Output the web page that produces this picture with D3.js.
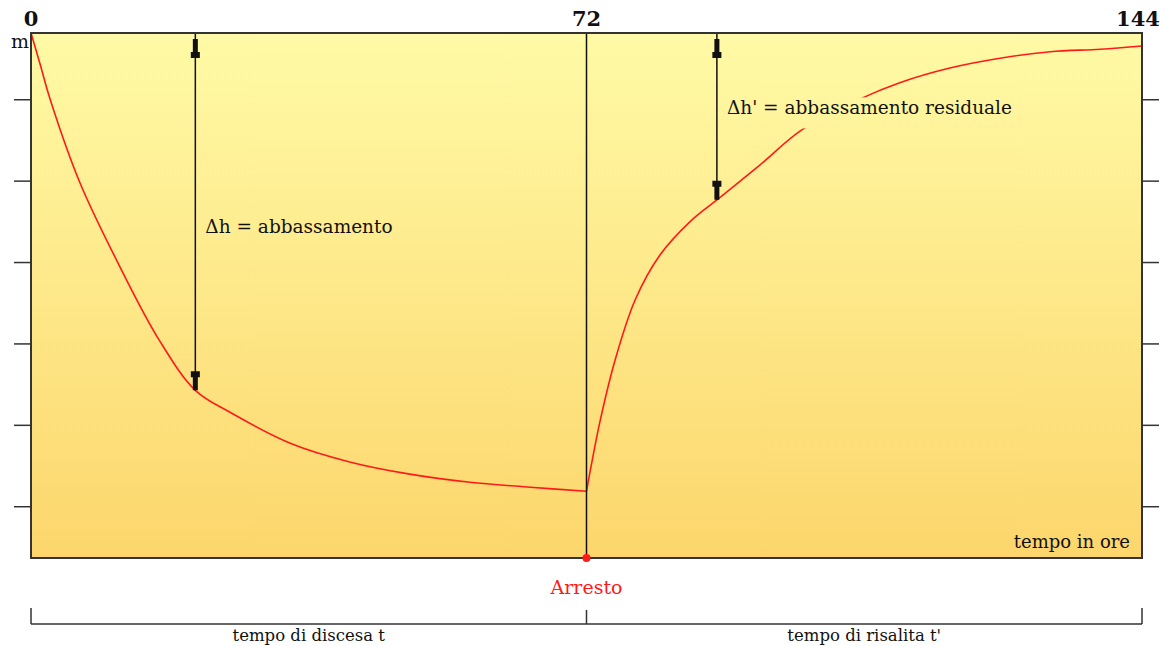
<!DOCTYPE html>
<html>
<head>
<meta charset="utf-8">
<script src="https://cdn.jsdelivr.net/npm/d3@7"></script>
<style>
  body { margin: 0; background: #fff; }
  svg { display: block; font-family: "DejaVu Serif", "Liberation Serif", serif; }
</style>
</head>
<body>
<div id="container"></div>
<script>
/* DATA */
// ore, abbassamento (m) during pumping
const discesaHours = [0, 1.2, 2.5, 6.3, 11.3, 16.6, 21.3, 25.8, 33.6, 41.3, 49.1, 56.9, 64.7, 72];
const discesaDepth = [0, 0.39, 0.82, 1.83, 2.83, 3.77, 4.39, 4.66, 5.04, 5.27, 5.42, 5.52, 5.58, 5.63];
// recovery after stop
const risalitaHours = [72, 72.5, 73.8, 75.7, 78.3, 81.5, 85.4, 88.9, 94.5, 99.9, 107.7, 112.6, 119.1, 125.6, 132.1, 138.6, 144];
const risalitaDepth = [5.63, 5.37, 4.75, 4.02, 3.28, 2.73, 2.32, 2.05, 1.62, 1.19, 0.80, 0.61, 0.43, 0.31, 0.23, 0.20, 0.16];
const xTicks = [0, 72, 144];
const yTicks = [0.82, 1.82, 2.82, 3.82, 4.82, 5.82];
const arrows = [
  { hour: 21.3, depth: 4.39, label: "\u0394h = abbassamento", labelDepth: 2.46 },
  { hour: 88.9, depth: 2.05, label: "\u0394h' = abbassamento residuale", labelDepth: 1.0 }
];
const periods = [
  { from: 0, to: 72, label: "tempo di discesa t" },
  { from: 72, to: 144, label: "tempo di risalita t'" }
];

/* LAYOUT */
const width = 1166, height = 646,
      margin = { top: 33, bottom: 88, left: 31, right: 24 };

const x = d3.scaleLinear().domain([0, 144]).range([margin.left, width - margin.right]);
const y = d3.scaleLinear().domain([0, 6.45]).range([margin.top, height - margin.bottom]);

const svg = d3.select("#container").append("svg")
  .attr("width", width)
  .attr("height", height);

// background gradient
const grad = svg.append("defs").append("linearGradient")
  .attr("id", "bg")
  .attr("gradientUnits", "userSpaceOnUse")
  .attr("x1", 0).attr("y1", y.range()[0])
  .attr("x2", 0).attr("y2", y.range()[1]);
grad.append("stop").attr("offset", "0%").attr("stop-color", "#fffaa6");
grad.append("stop").attr("offset", "100%").attr("stop-color", "#fcd66c");

svg.append("rect")
  .attr("x", x(0)).attr("y", y.range()[0])
  .attr("width", x(144) - x(0))
  .attr("height", y.range()[1] - y.range()[0])
  .attr("fill", "url(#bg)");

// tick marks on both sides
svg.selectAll(".ytl")
  .data(yTicks)
  .join("line")
  .attr("x1", x(0) - 17).attr("x2", x(0))
  .attr("y1", d => y(d)).attr("y2", d => y(d))
  .attr("stroke", "#333").attr("stroke-width", 1.5);
svg.selectAll(".ytr")
  .data(yTicks)
  .join("line")
  .attr("x1", x(144)).attr("x2", x(144) + 17)
  .attr("y1", d => y(d)).attr("y2", d => y(d))
  .attr("stroke", "#333").attr("stroke-width", 1.5);

// curves
const line = d3.line().x(d => x(d[0])).y(d => y(d[1])).curve(d3.curveCatmullRom.alpha(0.5));
const discesa = discesaHours.map((h, i) => [h, discesaDepth[i]]);
const risalita = risalitaHours.map((h, i) => [h, risalitaDepth[i]]);

svg.selectAll(".curve")
  .data([discesa, risalita])
  .join("path")
  .attr("d", line)
  .attr("fill", "none")
  .attr("stroke", "#ff1a1a")
  .attr("stroke-width", 1.6);

// stop line
svg.append("line")
  .attr("x1", x(72)).attr("x2", x(72))
  .attr("y1", y.range()[0]).attr("y2", y.range()[1])
  .attr("stroke", "#111").attr("stroke-width", 1.5);

// arrows
const head = (cx, tipY, dir) => {
  // dir = -1 points up, 1 points down
  const p = [[cx - 2.5, tipY], [cx + 2.5, tipY],
             [cx + 2.5, tipY - dir * 13], [cx + 4.5, tipY - dir * 13],
             [cx + 4.5, tipY - dir * 19], [cx - 4.5, tipY - dir * 19],
             [cx - 4.5, tipY - dir * 13], [cx - 2.5, tipY - dir * 13]];
  return "M" + p.join("L") + "Z";
};

arrows.forEach(a => {
  const ax = x(a.hour);
  svg.append("line")
    .attr("x1", ax).attr("x2", ax)
    .attr("y1", y(0)).attr("y2", y(a.depth))
    .attr("stroke", "#111").attr("stroke-width", 1.5);
  svg.append("path").attr("d", head(ax, y(0) + 6, -1)).attr("fill", "#111");
  svg.append("path").attr("d", head(ax, y(a.depth), 1)).attr("fill", "#111");
});

// labels with background to hide curve behind them
arrows.forEach(a => {
  const t = svg.append("text")
    .attr("x", x(a.hour) + 10)
    .attr("y", y(a.labelDepth))
    .attr("font-size", 18.5)
    .attr("fill", "#111")
    .text(a.label);
  const bb = t.node().getBBox();
  svg.insert("rect", () => t.node())
    .attr("x", bb.x - 2).attr("y", bb.y)
    .attr("width", bb.width + 4).attr("height", bb.height + 10)
    .attr("fill", "url(#bg)");
});

svg.append("text")
  .attr("x", x(144) - 12)
  .attr("y", y.range()[1] - 10)
  .attr("text-anchor", "end")
  .attr("font-size", 18)
  .attr("fill", "#111")
  .text("tempo in ore");

// frame
svg.append("rect")
  .attr("x", x(0)).attr("y", y.range()[0])
  .attr("width", x(144) - x(0))
  .attr("height", y.range()[1] - y.range()[0])
  .attr("fill", "none")
  .attr("stroke", "#333").attr("stroke-width", 2);

// top hour labels
svg.selectAll(".xt")
  .data(xTicks)
  .join("text")
  .attr("x", d => x(d) + (d === 144 ? -4 : 0))
  .attr("y", 26)
  .attr("text-anchor", "middle")
  .attr("font-size", 21)
  .attr("font-weight", "bold")
  .attr("fill", "#111")
  .text(d => d);

svg.append("text")
  .attr("x", x(0) - 2)
  .attr("y", 48)
  .attr("text-anchor", "end")
  .attr("font-size", 19)
  .attr("fill", "#111")
  .text("m");

// stop marker
svg.append("circle")
  .attr("cx", x(72)).attr("cy", y.range()[1])
  .attr("r", 4)
  .attr("fill", "#ff1a1a");

svg.append("text")
  .attr("x", x(72))
  .attr("y", 594)
  .attr("text-anchor", "middle")
  .attr("font-size", 19)
  .attr("fill", "#ff1a1a")
  .text("Arresto");

// bottom bracket
const by = 624;
svg.append("line")
  .attr("x1", x(0)).attr("x2", x(144))
  .attr("y1", by).attr("y2", by)
  .attr("stroke", "#333").attr("stroke-width", 1.5);
svg.selectAll(".bt")
  .data([0, 72, 144])
  .join("line")
  .attr("x1", d => x(d)).attr("x2", d => x(d))
  .attr("y1", d => d === 72 ? by - 14 : by - 16).attr("y2", by)
  .attr("stroke", "#333").attr("stroke-width", 1.5);

svg.selectAll(".pl")
  .data(periods)
  .join("text")
  .attr("x", d => (x(d.from) + x(d.to)) / 2)
  .attr("y", 641)
  .attr("text-anchor", "middle")
  .attr("font-size", 16.5)
  .attr("fill", "#111")
  .text(d => d.label);
</script>
</body>
</html>
